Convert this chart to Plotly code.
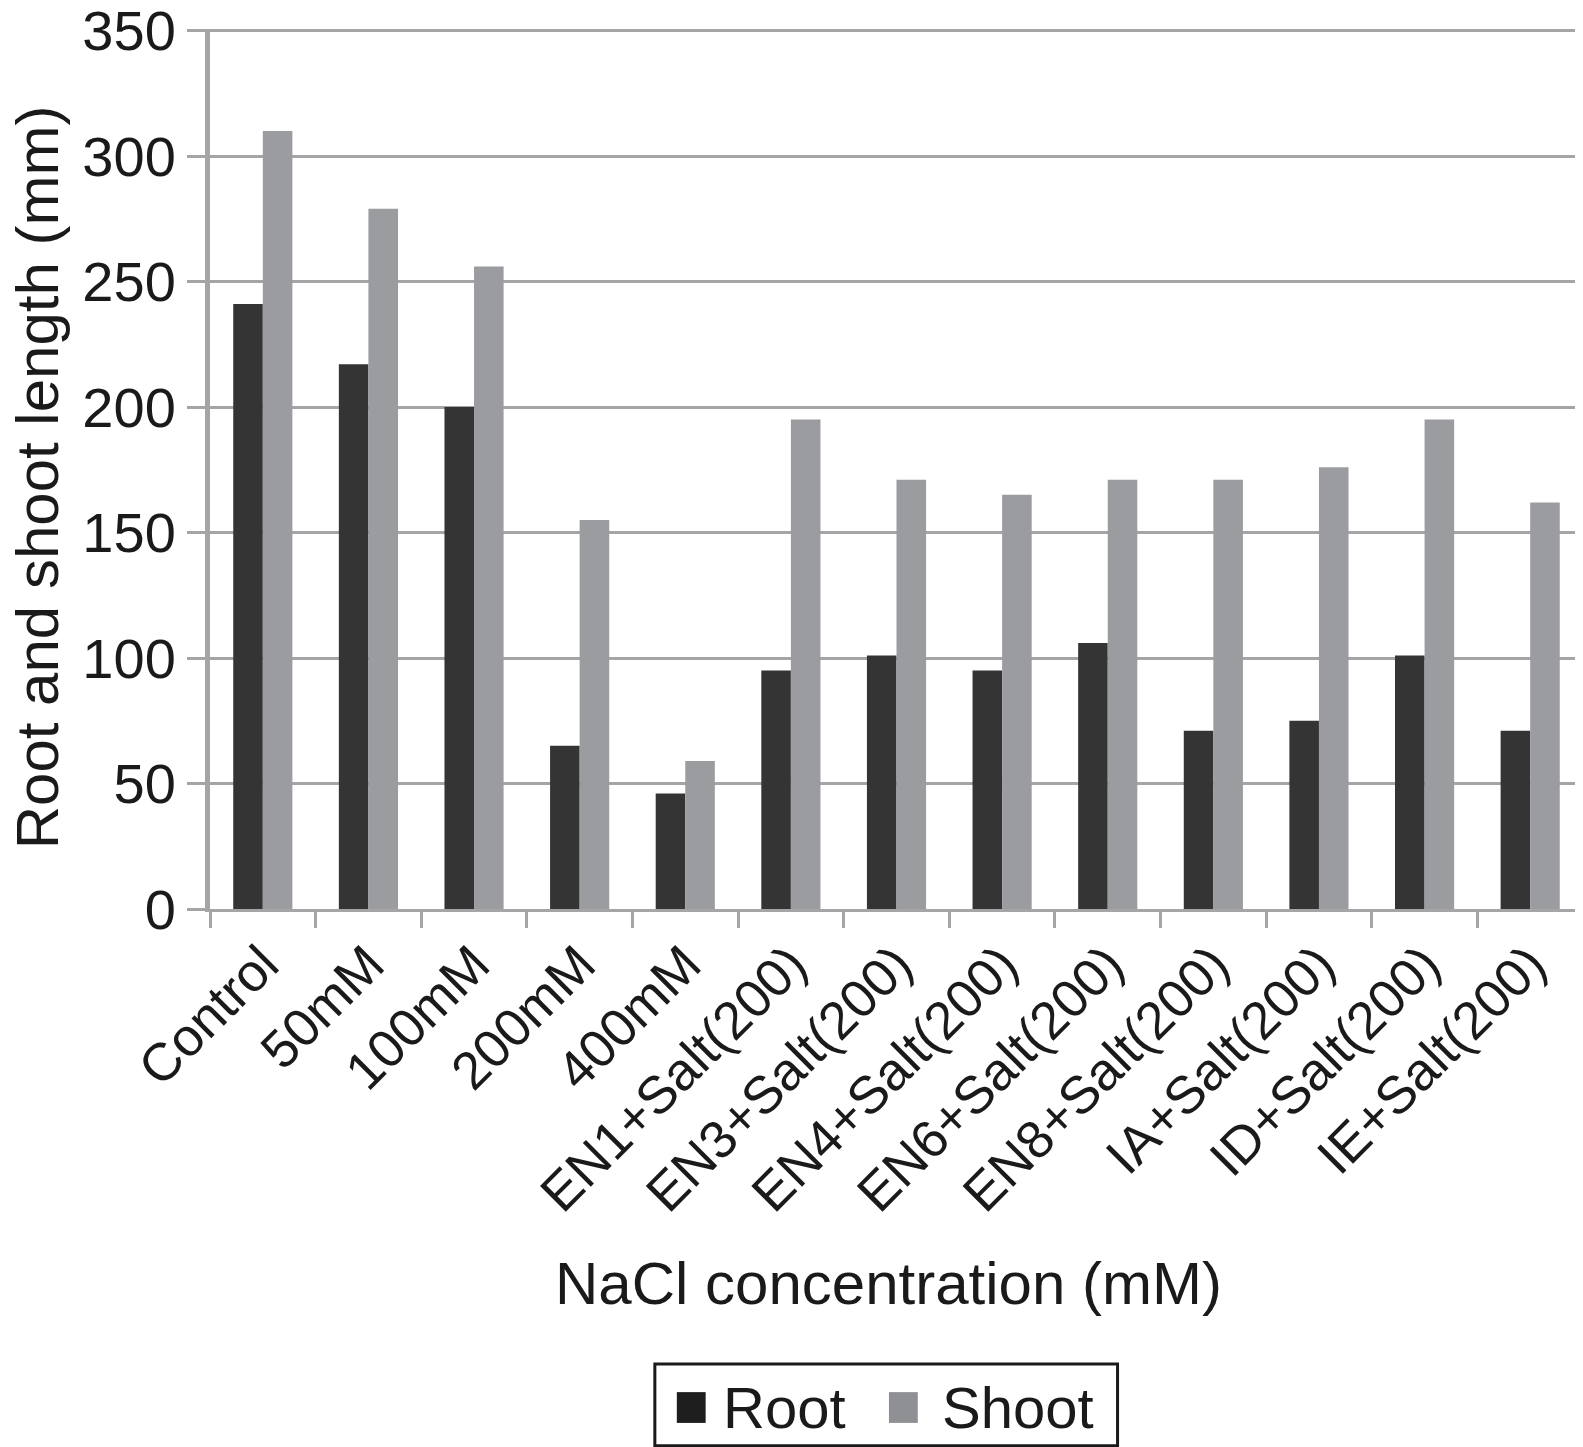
import plotly.graph_objects as go

categories = ['Control', '50mM', '100mM', '200mM', '400mM', 'EN1+Salt(200)', 'EN3+Salt(200)',
              'EN4+Salt(200)', 'EN6+Salt(200)', 'EN8+Salt(200)', 'IA+Salt(200)', 'ID+Salt(200)',
              'IE+Salt(200)']
root = [241, 217, 200, 65, 46, 95, 101, 95, 106, 71, 75, 101, 71]
shoot = [310, 279, 256, 155, 59, 195, 171, 165, 171, 171, 176, 195, 162]
series_names = ['Root', 'Shoot']
series_colors = ['#343434', '#9b9ca0']

fnt = 'Liberation Sans, Arial, sans-serif'
txt = '#1a1a1a'
grey = '#a5a5a7'

fig = go.Figure()
for name, vals, col in zip(series_names, [root, shoot], series_colors):
    fig.add_trace(go.Bar(x=categories, y=vals, name=name, marker_color=col,
                         marker_line_width=0, showlegend=False))

fig.update_layout(
    width=1575, height=1439,
    plot_bgcolor='white', paper_bgcolor='white',
    margin=dict(l=202, r=0, t=21, b=538),
    barmode='group', bargap=0.44, bargroupgap=0,
    font=dict(family=fnt, color=txt),
)
fig.update_yaxes(range=[0, 350.6], tickvals=[0, 50, 100, 150, 200, 250, 300, 350],
                 showgrid=True, gridcolor=grey, gridwidth=3,
                 showline=True, linecolor=grey, linewidth=5, ticks='outside', ticklen=18,
                 tickcolor=grey, tickwidth=3, tickfont=dict(size=56, family=fnt, color=txt),
                 ticklabeloverflow='allow', automargin=False, zeroline=False)
fig.update_xaxes(showline=True, linecolor=grey, linewidth=3, ticks='outside', ticklen=16,
                 tickcolor=grey, tickwidth=3, tickson='boundaries', tickangle=-45,
                 tickfont=dict(size=53, family=fnt, color=txt), showgrid=False,
                 automargin=False)

# axis titles
fig.add_annotation(text='Root and shoot length (mm)', textangle=-90, xref='paper', yref='paper',
                   x=-0.125, y=0.491, xanchor='center', yanchor='middle', showarrow=False,
                   font=dict(size=60, family=fnt, color=txt))
fig.add_annotation(text='NaCl concentration (mM)', xref='paper', yref='paper',
                   x=0.4945, y=-0.425, xanchor='center', yanchor='middle', showarrow=False,
                   font=dict(size=60, family=fnt, color=txt))

# legend box drawn by hand so the swatches scale with the text
fig.add_shape(type='rect', xref='paper', yref='paper', x0=0.324, x1=0.661, y0=-0.610, y1=-0.517,
              line=dict(color=txt, width=3), fillcolor='white')
sw_x = [0.340, 0.4945]
lab_x = [0.3725, 0.5317]
for name, col, sx, lx in zip(series_names, series_colors, sw_x, lab_x):
    fig.add_shape(type='rect', xref='paper', yref='paper', x0=sx, x1=sx + 0.021,
                  y0=-0.584, y1=-0.549, line=dict(width=0),
                  fillcolor='#1e1e1e' if name == 'Root' else '#8f9093')
    fig.add_annotation(text=name, xref='paper', yref='paper', x=lx, y=-0.567,
                       xanchor='left', yanchor='middle', showarrow=False,
                       font=dict(size=58, family=fnt, color=txt))

fig.write_html('out.html')
